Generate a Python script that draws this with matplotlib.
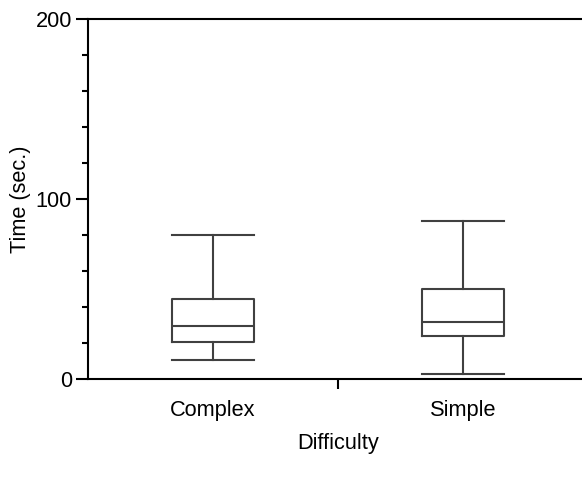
import matplotlib
matplotlib.use('Agg')
import matplotlib.pyplot as plt
from matplotlib import rcParams

rcParams['font.family'] = ['Liberation Sans', 'DejaVu Sans']
rcParams['font.size'] = 15.7

categories = ['Complex', 'Simple']
whislo = [10.7, 2.9]
q1 = [20.7, 24.1]
med = [29.6, 31.8]
q3 = [44.3, 50.0]
whishi = [80.0, 87.6]

stats = []
for i, name in enumerate(categories):
    stats.append({'label': name, 'whislo': whislo[i], 'q1': q1[i], 'med': med[i],
                  'q3': q3[i], 'whishi': whishi[i], 'fliers': []})

fig = plt.figure(figsize=(5.82, 4.82), dpi=100)
W, H = 582.0, 482.0
ax = fig.add_axes([88 / W, (H - 379) / H, 500 / W, 360 / H])

box_col = '#404040'
lw = 1.5
ax.bxp(stats, positions=[0, 1], widths=0.33, capwidths=0.33, showfliers=False,
       boxprops=dict(color=box_col, linewidth=lw),
       whiskerprops=dict(color=box_col, linewidth=lw),
       capprops=dict(color=box_col, linewidth=lw),
       medianprops=dict(color=box_col, linewidth=lw))

ax.set_xlim(-0.5, 1.5)
ax.set_ylim(0, 200)
ax.set_yticks([0, 100, 200])
ax.set_yticks(range(20, 200, 20), minor=True)
ax.set_xticks([0, 1])
ax.set_xticklabels(categories)
ax.set_xticks([0.5], minor=True)

# tick sizes in points (dpi 100 -> 0.72 pt per pixel)
ax.tick_params(axis='y', which='major', direction='out', length=8.6, width=1.5, pad=3)
ax.tick_params(axis='y', which='minor', direction='out', length=4.3, width=1.5)
ax.tick_params(axis='x', which='major', length=0, pad=15)
ax.tick_params(axis='x', which='minor', direction='out', length=7.2, width=1.5)

for s in ['left', 'bottom', 'top']:
    ax.spines[s].set_linewidth(1.5)
ax.spines['right'].set_visible(False)

ax.set_ylabel('Time (sec.)', labelpad=3)
ax.set_xlabel('Difficulty', labelpad=8.5)

fig.savefig('out.png', dpi=100)
